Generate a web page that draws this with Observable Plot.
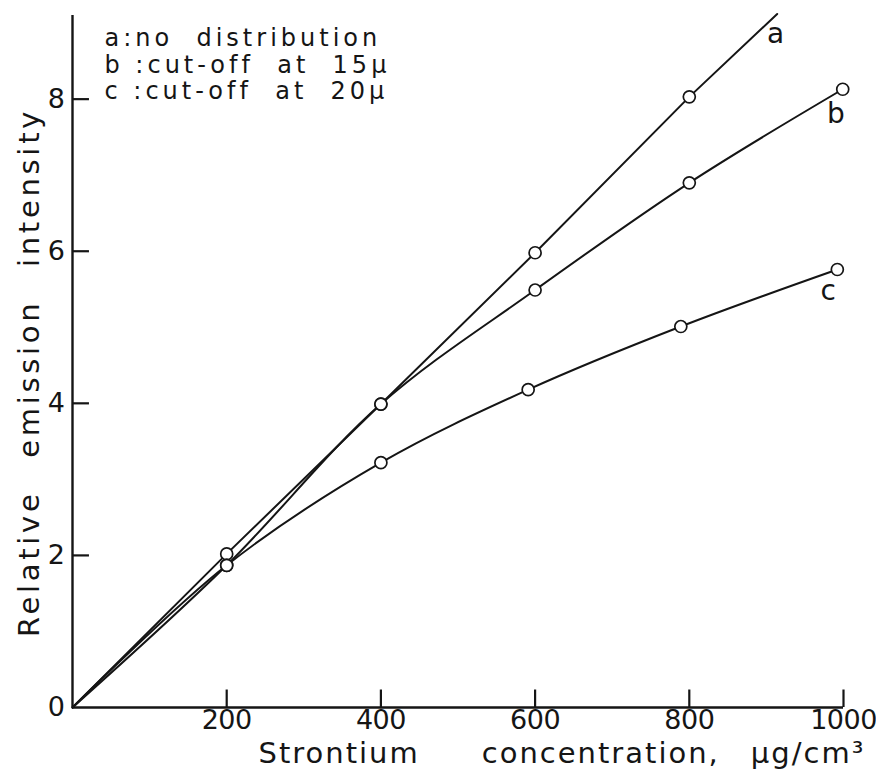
<!DOCTYPE html>
<html><head><meta charset="utf-8">
<script src="https://cdn.jsdelivr.net/npm/d3@7"></script>
<script src="https://cdn.jsdelivr.net/npm/@observablehq/plot@0.6"></script>
<style>
body{margin:0;background:#fff;}
svg text{white-space:pre;}
svg .legend text{letter-spacing:4px;}
svg .xtitle text{letter-spacing:2px;}
svg .ytitle text{letter-spacing:3.7px;}
svg .ticks text{letter-spacing:-0.5px;}
</style></head><body><div id="chart"></div>
<script>
// Strontium concentration (µg/cm³) and relative emission intensity
const aConc = [0, 200, 400, 600, 800, 914];
const aInt = [0, 2.02, 3.99, 5.98, 8.03, 9.12];
const aMarked = [0, 1, 1, 1, 1, 0];
const bConc = [0, 200, 400, 600, 800, 999];
const bInt = [0, 1.87, 3.99, 5.49, 6.90, 8.13];
const bMarked = [0, 1, 1, 1, 1, 1];
const cConc = [0, 200, 400, 591, 789, 992];
const cInt = [0, 1.87, 3.22, 4.18, 5.01, 5.76];
const cMarked = [0, 1, 1, 1, 1, 1];

const xTicks = [200, 400, 600, 800, 1000];
const yTicks = [0, 2, 4, 6, 8];

const curveNames = ["a", "b", "c"];
const curveLabelX = [912, 990, 980];
const curveLabelY = [8.86, 7.8, 5.48];

const legendLines = ["a:no  distribution", "b :cut-off  at  15\u00b5", "c :cut-off  at  20\u00b5"];
const xTitle = "Strontium\u2003\u2003concentration,\u2003\u00b5g/cm\u00b3";
const yTitle = "Relative\u2003emission\u2003intensity";

const rows = (conc, ints, marked, id) => conc.map((x, i) => ({x, y: ints[i], m: marked[i], id}));
const A = rows(aConc, aInt, aMarked, "a");
const B = rows(bConc, bInt, bMarked, "b");
const C = rows(cConc, cInt, cMarked, "c");
const markers = [...A, ...B, ...C].filter(d => d.m);
const curveLabels = curveNames.map((t, i) => ({t, x: curveLabelX[i], y: curveLabelY[i]}));

const ink = "#151515";
const font = "'DejaVu Sans',sans-serif";

const chart = Plot.plot({
  width: 876, height: 775,
  marginLeft: 72, marginRight: 33, marginTop: 15, marginBottom: 68,
  x: {domain: [0, 1000]},
  y: {domain: [0, 9.1]},
  style: {fontFamily: font, background: "#fff", color: ink},
  marks: [
    Plot.ruleX([0], {stroke: ink, strokeWidth: 2.4}),
    Plot.ruleY([0], {stroke: ink, strokeWidth: 2.4}),
    Plot.ruleX(xTicks, {x: d => d, y1: 0, y2: 0.23, stroke: ink, strokeWidth: 2.2}),
    Plot.ruleY(yTicks.filter(d => d > 0), {y: d => d, x1: 0, x2: 22, stroke: ink, strokeWidth: 2.2}),
    Plot.axisX({ticks: xTicks, tickFormat: d => String(d), tickSize: 0, tickPadding: 2, fontSize: 27, label: null, fontFamily: font, className: "ticks"}),
    Plot.axisY({ticks: yTicks, tickFormat: d => String(d), tickSize: 0, tickPadding: 8, fontSize: 27, label: null, fontFamily: font, className: "ticks"}),
    Plot.line(A, {x: "x", y: "y", stroke: ink, strokeWidth: 2}),
    Plot.line(B, {x: "x", y: "y", stroke: ink, strokeWidth: 2, curve: "catmull-rom"}),
    Plot.line(C, {x: "x", y: "y", stroke: ink, strokeWidth: 2, curve: "catmull-rom"}),
    Plot.dot(markers, {x: "x", y: "y", r: 6, stroke: ink, fill: "#fff", strokeWidth: 1.7}),
    Plot.text(curveLabels, {x: "x", y: "y", text: "t", fontSize: 28, fill: ink}),
    Plot.text([legendLines.join("\n")], {frameAnchor: "top-left", textAnchor: "start", lineAnchor: "top", dx: 32, dy: 12, fontSize: 24, lineHeight: 1.1, fill: ink, className: "legend"}),
    Plot.text([xTitle], {frameAnchor: "bottom-left", textAnchor: "start", lineAnchor: "middle", dx: 186, dy: 46, fontSize: 29, fill: ink, className: "xtitle"}),
    Plot.text([yTitle], {frameAnchor: "left", textAnchor: "middle", rotate: -90, lineAnchor: "middle", dx: -43, dy: 11, fontSize: 29, fill: ink, className: "ytitle"})
  ]
});
document.getElementById("chart").appendChild(chart);
</script></body></html>
